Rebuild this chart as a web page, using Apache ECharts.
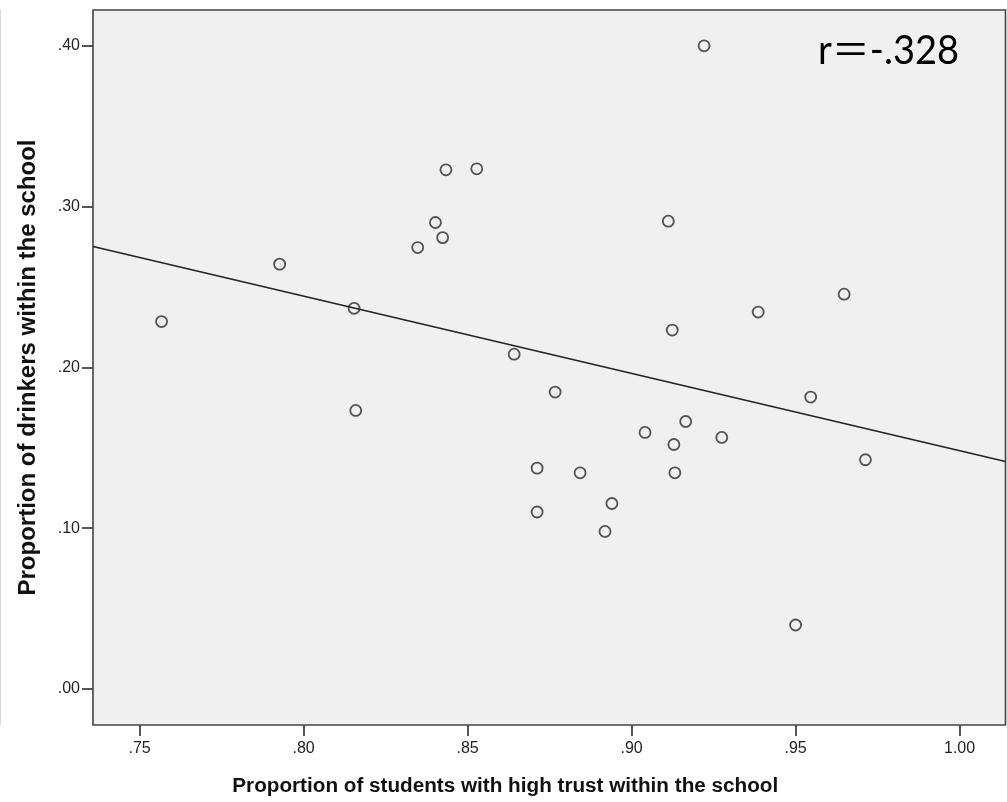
<!DOCTYPE html>
<html>
<head>
<meta charset="utf-8">
<script src="https://cdn.jsdelivr.net/npm/echarts@6/dist/echarts.min.js"></script>
<style>
  html, body { margin: 0; padding: 0; background: #ffffff; }
  #chart { width: 1007px; height: 802px; }
</style>
</head>
<body>
<div id="chart"></div>
<script>
// Share of students reporting high trust, per school
const trust = [
  0.7567, 0.7927, 0.8154, 0.8159, 0.8348, 0.8402, 0.8424, 0.8434, 0.8528, 0.8642,
  0.8767, 0.8712, 0.8712, 0.8843, 0.8940, 0.8919, 0.9041, 0.9129, 0.9132, 0.9165,
  0.9124, 0.9275, 0.9386, 0.9112, 0.9221, 0.9546, 0.9648, 0.9713, 0.9500
];
// Share of drinkers, per school (same order)
const drinkers = [
  0.2286, 0.2643, 0.2368, 0.1733, 0.2746, 0.2902, 0.2808, 0.3230, 0.3236, 0.2083,
  0.1847, 0.1374, 0.1101, 0.1345, 0.1154, 0.0980, 0.1596, 0.1521, 0.1345, 0.1664,
  0.2233, 0.1565, 0.2345, 0.2910, 0.4001, 0.1816, 0.2456, 0.1426, 0.0398
];
const xTicks = [0.75, 0.80, 0.85, 0.90, 0.95, 1.00];
const yTicks = [0.00, 0.10, 0.20, 0.30, 0.40];
const xRange = [0.7358, 1.0140];
const yRange = [-0.0224, 0.4224];
const corrLabel = 'r\uFF1D-.328';
const xTitle = 'Proportion of students with high trust within the school';
const yTitle = 'Proportion of drinkers within the school';

// Ordinary least-squares fit of drinkers on trust
function fitLine(xs, ys) {
  const n = xs.length;
  let mx = 0, my = 0;
  for (let i = 0; i < n; i++) { mx += xs[i]; my += ys[i]; }
  mx /= n; my /= n;
  let sxy = 0, sxx = 0;
  for (let i = 0; i < n; i++) {
    sxy += (xs[i] - mx) * (ys[i] - my);
    sxx += (xs[i] - mx) * (xs[i] - mx);
  }
  const slope = sxy / sxx;
  return { slope: slope, intercept: my - slope * mx };
}
const fit = fitLine(trust, drinkers);
const fitPoints = xRange.map(x => [x, fit.intercept + fit.slope * x]);
const points = trust.map((x, i) => [x, drinkers[i]]);

const fmt = v => v.toFixed(2).replace(/^0/, '');
const tickFont = { fontFamily: 'Liberation Sans, Arial, sans-serif', fontSize: 16, color: '#222' };
const titleFont = { fontFamily: 'Liberation Sans, Arial, sans-serif', fontWeight: 'bold', color: '#111' };

const chart = echarts.init(document.getElementById('chart'), null, { renderer: 'canvas' });
chart.setOption({
  animation: false,
  backgroundColor: '#ffffff',
  grid: {
    left: 93, top: 10, right: 1.5, bottom: 76.7,
    show: true, backgroundColor: '#f0f0f0', borderColor: '#444', borderWidth: 1.6
  },
  xAxis: {
    type: 'value', min: xRange[0], max: xRange[1],
    name: xTitle, nameLocation: 'middle', nameGap: 51,
    nameTextStyle: Object.assign({ fontSize: 20.7, padding: [0, 88, 0, 0] }, titleFont),
    axisLine: { show: false, onZero: false },
    splitLine: { show: false },
    axisTick: { show: true, customValues: xTicks, length: 11, lineStyle: { color: '#444', width: 1.8 } },
    axisLabel: Object.assign({ customValues: xTicks, margin: 16, formatter: fmt }, tickFont)
  },
  yAxis: {
    type: 'value', min: yRange[0], max: yRange[1],
    name: yTitle, nameLocation: 'middle', nameGap: 52.5, nameRotate: 90,
    nameTextStyle: Object.assign({ fontSize: 24 }, titleFont),
    axisLine: { show: false, onZero: false },
    splitLine: { show: false },
    axisTick: { show: true, customValues: yTicks, length: 11, lineStyle: { color: '#444', width: 1.8 } },
    axisLabel: Object.assign({ customValues: yTicks, margin: 13, formatter: fmt }, tickFont)
  },
  series: [
    {
      type: 'line',
      data: fitPoints,
      showSymbol: false,
      silent: true,
      lineStyle: { color: '#222', width: 1.5 },
      z: 2
    },
    {
      type: 'scatter',
      data: points,
      symbol: 'circle',
      symbolSize: 11,
      itemStyle: { color: 'rgba(0,0,0,0)', borderColor: '#2a2a2a', borderWidth: 1.8 },
      z: 3
    }
  ],
  graphic: [
    {
      type: 'line',
      shape: { x1: 0.5, y1: 10, x2: 0.5, y2: 725 },
      style: { stroke: '#d8d8d8', lineWidth: 1 },
      silent: true
    },
    {
      type: 'text',
      x: 818, y: 51,
      scaleX: 0.95,
      style: {
        text: corrLabel,
        font: '40px Lato, "Noto Sans CJK SC", sans-serif',
        fill: '#000',
        verticalAlign: 'middle'
      },
      z: 10
    }
  ]
});
</script>
</body>
</html>
